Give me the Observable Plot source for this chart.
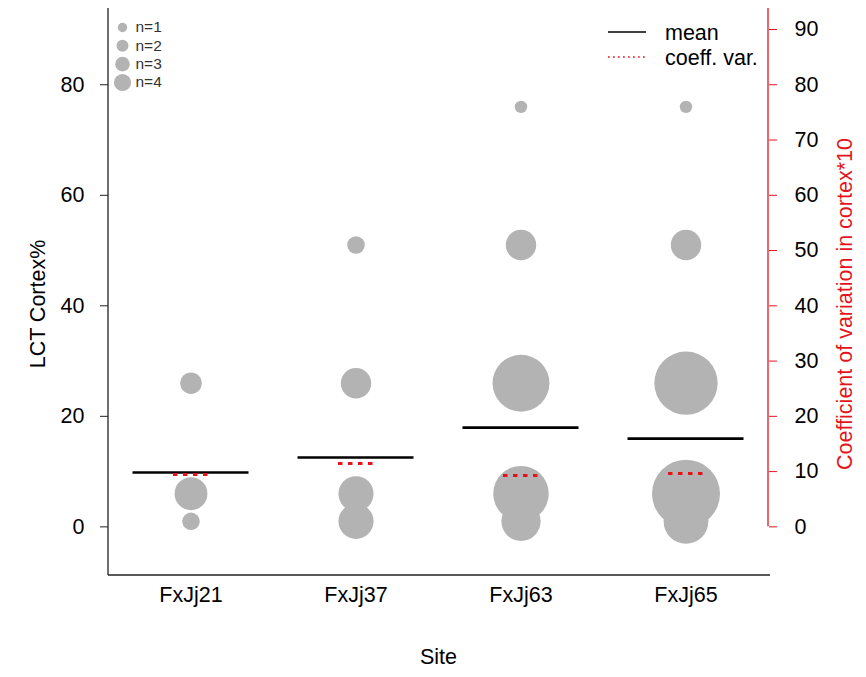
<!DOCTYPE html>
<html><head><meta charset="utf-8">
<script src="https://cdn.jsdelivr.net/npm/d3@7"></script>
<script src="https://cdn.jsdelivr.net/npm/@observablehq/plot@0.6"></script>
<style>
body{margin:0;background:#fff}
#chart{position:relative;width:866px;height:677px}
</style>
</head><body><div id="chart"></div>
<script>
// ---- data ----
const sites = ["FxJj21", "FxJj37", "FxJj63", "FxJj65"];
const cortexLevels = [1, 6, 26, 51, 76];          // LCT cortex % classes
const countsFxJj21 = [2, 7, 3, 0, 0];              // number of LCTs per class
const countsFxJj37 = [8, 8, 6, 2, 0];
const countsFxJj63 = [10, 20, 21, 6, 1];
const countsFxJj65 = [13, 30, 26, 6, 1];
const meanCortex = [9.83, 12.54, 17.96, 15.97];
const cvTimes10 = [9.46, 11.45, 9.28, 9.64];
const leftTicks = [0, 20, 40, 60, 80];
const rightTicks = [0, 10, 20, 30, 40, 50, 60, 70, 80, 90];
const legendN = [1, 2, 3, 4];
const yDomain = [-8.8, 93.8];

// ---- tables built from the arrays ----
const countsBySite = [countsFxJj21, countsFxJj37, countsFxJj63, countsFxJj65];
const bubbles = sites.flatMap((s, i) =>
  cortexLevels.map((v, j) => ({site: s, cortex: v, n: countsBySite[i][j]}))
).filter(d => d.n > 0);
const summary = sites.map((s, i) => ({site: s, mean: meanCortex[i], cv: cvTimes10[i]}));

const W = 866, H = 677, mL = 108, mR = 98, mT = 8, mB = 102;
const font = "'Liberation Sans', Arial, Helvetica, sans-serif";
const fs = 21.5;
const red = "#e3141b";
const grey = "#b3b3b3";

const plot = Plot.plot({
  width: W, height: H,
  marginLeft: mL, marginRight: mR, marginTop: mT, marginBottom: mB,
  style: {fontFamily: font, fontSize: fs + "px", background: "white", color: "black"},
  x: {type: "band", domain: sites, padding: 0, align: 0.5},
  y: {domain: yDomain},
  r: {type: "sqrt", domain: [0, 30], range: [0, 34]},
  marks: [
    Plot.dot(bubbles, {x: "site", y: "cortex", r: "n", fill: grey, stroke: null}),
    Plot.tickY(summary, {x: "site", y: "mean", stroke: "black", strokeWidth: 2.6, insetLeft: 24.5, insetRight: 24.5}),
    Plot.tickY(summary, {x: "site", y: "cv", stroke: red, strokeWidth: 3, strokeDasharray: "4.5,5.5", insetLeft: 65, insetRight: 65}),
    Plot.axisY({anchor: "left", ticks: leftTicks, tickSize: 8, tickPadding: 16, label: null, fontSize: fs, stroke: "#222", fill: "black"}),
    Plot.axisY({anchor: "right", ticks: rightTicks, tickSize: 8, tickPadding: 18, label: null, fontSize: fs, stroke: red, fill: "black"}),
    Plot.axisX({anchor: "bottom", tickSize: 0, tickPadding: 11, label: null, fontSize: fs, fill: "black"}),
    // size legend (top-left)
    ...legendN.map((n, i) => Plot.dot([n], {frameAnchor: "top-left", dx: 14, dy: 19 + i * 18.33, r: 3.4 + 1.3 * n, fill: grey, stroke: null})),
    ...legendN.map((n, i) => Plot.text([`n=${n}`], {frameAnchor: "top-left", dx: 27, dy: 19 + i * 18.33, textAnchor: "start", lineAnchor: "middle", fontSize: 15.5, fill: "#333"})),
    // axis titles
    Plot.text(["LCT Cortex%"], {frameAnchor: "left", dx: -70, dy: 12, rotate: -90, textAnchor: "middle", fontSize: fs, fill: "black"}),
    Plot.text(["Coefficient of variation in cortex*10"], {frameAnchor: "right", dx: 77, dy: 12, rotate: -90, textAnchor: "middle", fontSize: fs, fill: red}),
    Plot.text(["Site"], {frameAnchor: "bottom", dy: 88, textAnchor: "middle", fontSize: fs, fill: "black"})
  ]
});

document.getElementById("chart").appendChild(plot);

// axis lines (L-shaped box) and the red right axis line, using the plot's scales
const svg = d3.select(plot);
const y = plot.scale("y");
const g = svg.append("g");
g.append("line").attr("x1", mL).attr("x2", mL).attr("y1", mT).attr("y2", H - mB)
  .attr("stroke", "#222").attr("stroke-width", 1.3);
g.append("line").attr("x1", mL).attr("x2", W - mR + 2).attr("y1", H - mB).attr("y2", H - mB)
  .attr("stroke", "#222").attr("stroke-width", 1.3);
g.append("line").attr("x1", W - mR).attr("x2", W - mR).attr("y1", mT).attr("y2", y.apply(0))
  .attr("stroke", red).attr("stroke-width", 1.3);

// line-type legend (top-right)
const leg = svg.append("g").attr("font-family", font).attr("font-size", fs).attr("text-anchor", "start");
leg.append("line").attr("x1", 608).attr("x2", 646).attr("y1", 32).attr("y2", 32)
  .attr("stroke", "black").attr("stroke-width", 1.7);
leg.append("line").attr("x1", 608).attr("x2", 646).attr("y1", 57).attr("y2", 57)
  .attr("stroke", red).attr("stroke-width", 1.7).attr("stroke-dasharray", "1.7,3.3");
leg.append("text").attr("x", 665).attr("y", 32).attr("dy", "0.35em").attr("text-anchor", "start").text("mean");
leg.append("text").attr("x", 665).attr("y", 57).attr("dy", "0.35em").attr("text-anchor", "start").text("coeff. var.");
</script>
</body></html>
